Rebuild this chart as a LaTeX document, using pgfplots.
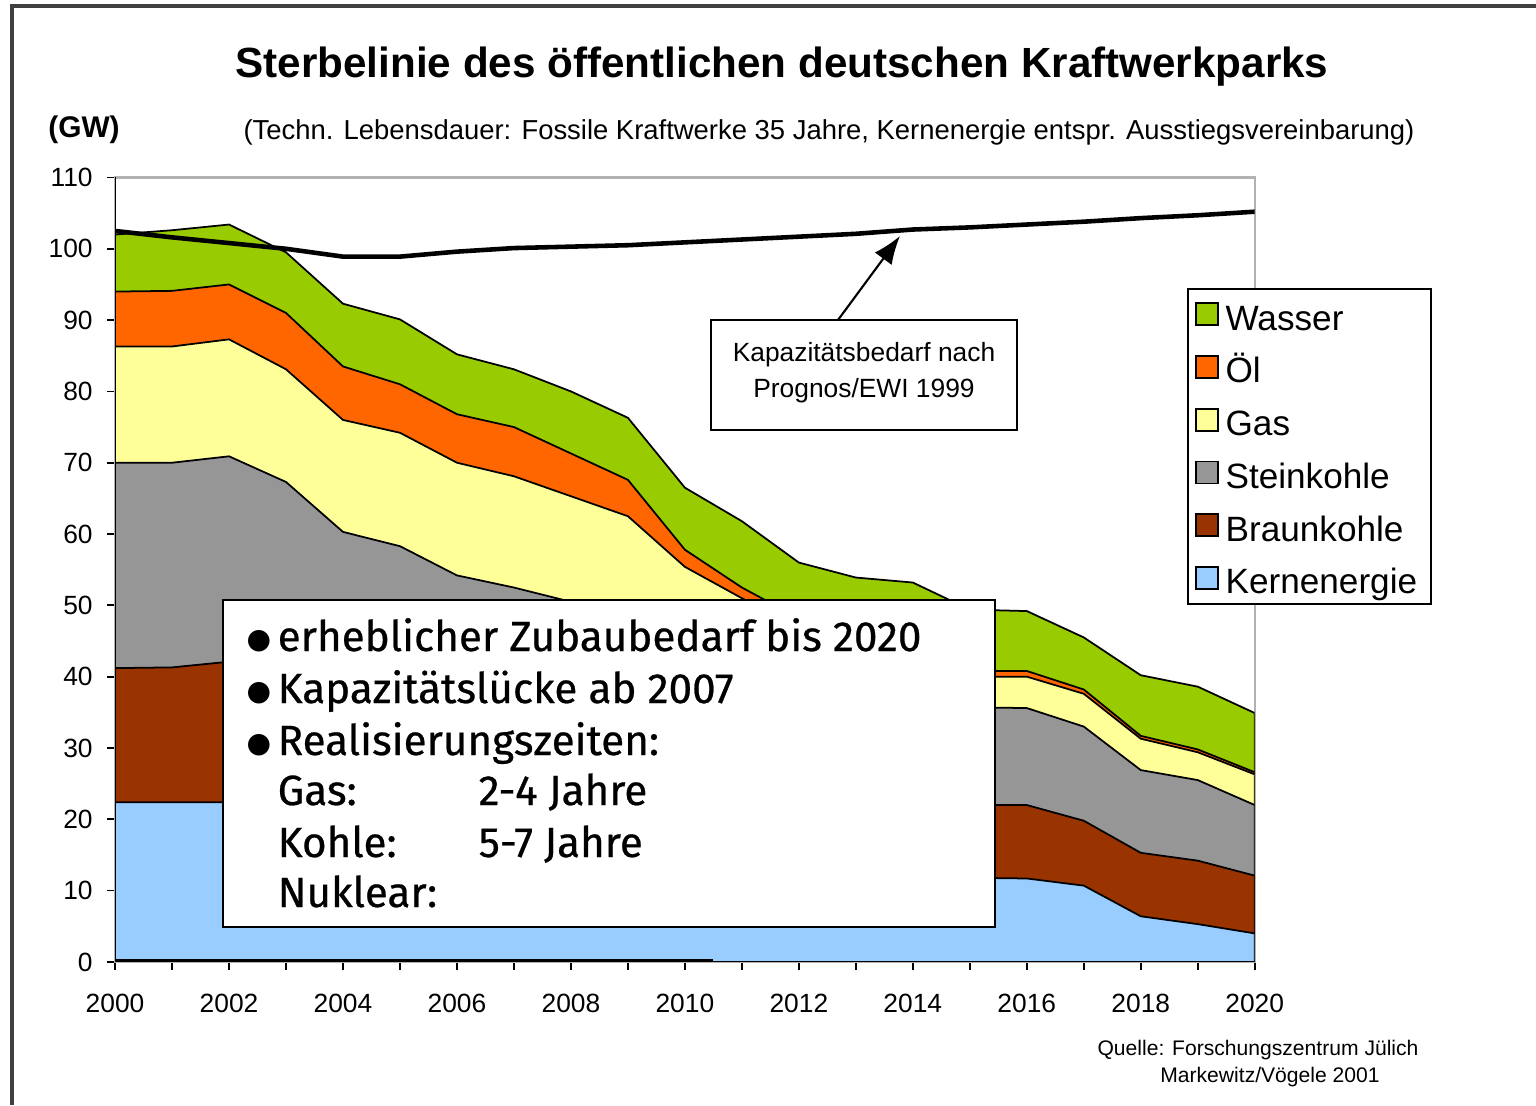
\documentclass[border=0pt]{standalone}
\usepackage{fontspec}
\setmainfont{Liberation Sans}
\newfontfamily\boxfont[FakeBold=0.6]{Fira Sans}
\newfontfamily\symfont{DejaVu Sans}
\usepackage{pgfplots}
\pgfplotsset{compat=1.18}
\usepackage{pgfplotstable}
\usetikzlibrary{arrows.meta}
\definecolor{wasser}{HTML}{99CC00}
\definecolor{oel}{HTML}{FF6600}
\definecolor{gas}{HTML}{FFFF99}
\definecolor{stein}{HTML}{969696}
\definecolor{braun}{HTML}{993300}
\definecolor{kern}{HTML}{99CCFF}

% cumulative tops of the stacked layers (GW) and demand line D
\pgfplotstableread{
year K B S G O W D
2000 22.4 41.2 70.0 86.3 94.0 102.0 102.5
2001 22.4 41.3 70.0 86.3 94.1 102.6 101.6
2002 22.4 42.1 70.9 87.3 95.0 103.4 100.8
2003 22.2 41.0 67.3 83.1 91.0 99.5 100.0
2004 21.8 39.5 60.3 76.0 83.5 92.3 98.9
2005 21.0 38.5 58.3 74.2 81.0 90.1 98.9
2006 20.5 37.5 54.2 70.0 76.8 85.2 99.6
2007 20.0 36.5 52.5 68.1 75.0 83.1 100.1
2008 19.0 35.0 50.5 65.3 71.3 80.0 100.3
2009 18.5 34.0 48.5 62.5 67.6 76.3 100.5
2010 17.5 32.5 46.0 55.4 57.8 66.5 100.9
2011 16.5 31.0 44.0 51.0 52.5 61.8 101.3
2012 15.5 29.0 42.0 47.0 48.2 56.0 101.7
2013 13.5 26.0 39.5 44.5 45.5 53.9 102.1
2014 12.5 24.0 37.5 42.0 43.0 53.2 102.7
2015 11.8 22.0 35.7 40.0 40.8 49.4 103.0
2016 11.7 22.0 35.6 40.0 40.8 49.2 103.4
2017 10.7 19.8 33.0 37.6 38.2 45.5 103.8
2018 6.4 15.3 26.9 31.3 31.7 40.2 104.3
2019 5.3 14.2 25.5 29.4 29.8 38.6 104.7
2020 4.0 12.1 22.0 26.3 26.6 34.9 105.2
}\data

\begin{document}
\begin{tikzpicture}[x=0.01cm,y=0.01cm]
\path[use as bounding box] (0,0) rectangle (1536,1105);
\draw[black!75, line width=1.2pt] (12,0) -- (12,1099) -- (1536,1099);
\begin{axis}[
  at={(1.15cm,1.43cm)}, anchor=south west,
  scale only axis, width=11.39cm, height=7.84cm,
  xmin=2000, xmax=2020, ymin=0, ymax=110,
  xtick={2000,2002,...,2020}, minor xtick={2001,2003,...,2019},
  ytick={0,10,...,110},
  tick align=outside, xtick pos=bottom, ytick pos=left,
  major tick length=0.08cm, minor tick length=0.08cm,
  tick style={black, line width=0.5pt},
  axis line style={draw=black!30, line width=0.6pt},
  /pgf/number format/assume math mode=true,
  /pgf/number format/set thousands separator={},
  xticklabel style={font=\fontsize{7.5}{9}\selectfont, yshift=-0.12cm},
  yticklabel style={font=\fontsize{7.5}{9}\selectfont, xshift=-0.02cm},
  legend style={at={(0.9403,0.8597)}, anchor=north west, draw=black, line width=0.6pt,
    fill=white, font=\fontsize{10}{12}\selectfont, inner xsep=2pt, inner ysep=0.8pt,
    row sep=2pt, cells={anchor=west}, nodes={text height=9pt, text depth=0pt}},
  legend image code/.code={\draw[#1, line width=0.5pt] (0cm,-0.11cm) rectangle (0.22cm,0.11cm);},
]
\addplot[fill=wasser, draw=black, line width=0.5pt] table[x=year, y=W] {\data} \closedcycle;
\addlegendentry{Wasser}
\addplot[fill=oel, draw=black, line width=0.5pt] table[x=year, y=O] {\data} \closedcycle;
\addlegendentry{Öl}
\addplot[fill=gas, draw=black, line width=0.5pt] table[x=year, y=G] {\data} \closedcycle;
\addlegendentry{Gas}
\addplot[fill=stein, draw=black, line width=0.5pt] table[x=year, y=S] {\data} \closedcycle;
\addlegendentry{Steinkohle}
\addplot[fill=braun, draw=black, line width=0.5pt] table[x=year, y=B] {\data} \closedcycle;
\addlegendentry{Braunkohle}
\addplot[fill=kern, draw=black, line width=0.5pt] table[x=year, y=K] {\data} \closedcycle;
\addlegendentry{Kernenergie}
\addplot[black, line width=1.3pt, forget plot] table[x=year, y=D] {\data};
\addplot[black, line width=1.1pt, forget plot] coordinates {(2000,0.2) (2010.5,0.2)};
\draw[black, line width=0.6pt] (rel axis cs:0,1) -- (rel axis cs:0,0) -- (rel axis cs:1,0);
\end{axis}

% titles
\node[font=\bfseries\fontsize{12}{14}\selectfont] at (782,1038) {Sterbelinie des öffentlichen deutschen Kraftwerkparks};
\node[font=\fontsize{7.8}{9}\selectfont] at (829,973) {(Techn. Lebensdauer: Fossile Kraftwerke 35 Jahre, Kernenergie entspr. Ausstiegsvereinbarung)};
\node[font=\bfseries\fontsize{8.5}{10}\selectfont] at (84,975) {(GW)};

% annotation box and arrow
\draw[black, line width=0.6pt, -{Latex[length=8pt,width=6pt]}] (838,785) -- (900,869);
\draw[black, line width=0.7pt, fill=white] (711,675) rectangle (1017,785);
\node[font=\fontsize{7.5}{9}\selectfont] at (864,750) {Kapazitätsbedarf nach};
\node[font=\fontsize{7.5}{9}\selectfont] at (864,714) {Prognos/EWI 1999};

% main text box
\draw[black, line width=0.7pt, fill=white] (223,178) rectangle (995,505);
\begin{scope}[every node/.style={anchor=base west, inner sep=0pt, font=\boxfont\fontsize{12}{14}\selectfont}]
\node[font=\symfont\fontsize{8}{9}\selectfont] at (246,457) {●};
\node at (277,454) {erheblicher Zubaubedarf bis 2020};
\node[font=\symfont\fontsize{8}{9}\selectfont] at (246,405) {●};
\node at (277,402) {Kapazitätslücke ab 2007};
\node[font=\symfont\fontsize{8}{9}\selectfont] at (246,353) {●};
\node at (277,350) {Realisierungszeiten:};
\node at (277,300) {Gas:};
\node at (478,300) {2-4 Jahre};
\node at (277,248) {Kohle:};
\node at (478,248) {5-7 Jahre};
\node at (277,198) {Nuklear:};
\end{scope}

% source
\node[font=\fontsize{6}{7}\selectfont] at (1258,55) {Quelle: Forschungszentrum Jülich};
\node[font=\fontsize{6}{7}\selectfont] at (1270,28) {Markewitz/Vögele 2001};
\end{tikzpicture}
\end{document}
